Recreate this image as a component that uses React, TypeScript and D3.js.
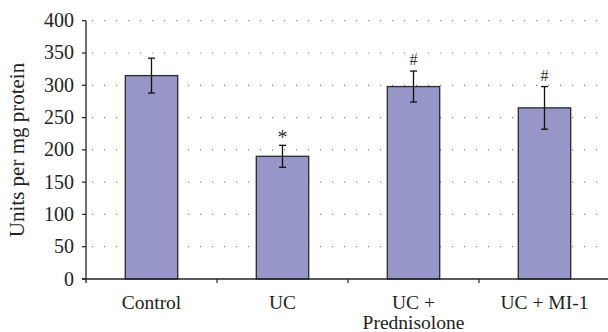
import React from "react";
import * as d3 from "d3";

const categories = ["Control", "UC", "UC + Prednisolone", "UC + MI-1"];
const labelLines = [["Control"], ["UC"], ["UC +", "Prednisolone"], ["UC + MI-1"]];
const values = [315, 190, 298, 265];
const errors = [27, 17, 24, 33];
const marks = ["", "*", "#", "#"];
const yTicks = [0, 50, 100, 150, 200, 250, 300, 350, 400];

export default function App() {
  const W = 608, H = 332;
  const left = 86, right = 610, top = 20.7, bottom = 279;
  const x = d3.scaleBand<string>().domain(categories).range([left, right]).paddingInner(0).paddingOuter(0);
  const y = d3.scaleLinear().domain([0, 400]).range([bottom, top]);
  const bw = x.bandwidth() * 0.4;
  const font = "'Liberation Serif', 'Times New Roman', serif";
  return (
    <svg width={W} height={H} style={{ position: "absolute", left: 0, top: 0, background: "#fff" }} fontFamily={font}>
      {yTicks.filter(t => t > 0).map(t => (
        <line key={"g" + t} x1={left + 6} x2={W} y1={y(t)} y2={y(t)} stroke="#888" strokeWidth={1.2} strokeDasharray="1.2 10.8" />
      ))}
      {categories.map((c, i) => {
        const cx = x(c)! + x.bandwidth() / 2;
        const v = values[i], e = errors[i];
        return (
          <g key={c}>
            <rect x={cx - bw / 2} y={y(v)} width={bw} height={y(0) - y(v)} fill="#9696C8" stroke="#2a2a2a" strokeWidth={1.3} />
            <line x1={cx} x2={cx} y1={y(v + e)} y2={y(v - e)} stroke="#111" strokeWidth={1.3} />
            <line x1={cx - 3.5} x2={cx + 3.5} y1={y(v + e)} y2={y(v + e)} stroke="#111" strokeWidth={1.3} />
            <line x1={cx - 3.5} x2={cx + 3.5} y1={y(v - e)} y2={y(v - e)} stroke="#111" strokeWidth={1.3} />
            {marks[i] && (
              <text x={cx} y={marks[i] === "*" ? y(v + e) - 1 : y(v + e) - 6} textAnchor="middle" fontSize={marks[i] === "*" ? 20 : 16} fill="#333">{marks[i]}</text>
            )}
            {labelLines[i].map((l, j) => (
              <text key={j} x={cx} y={308.5 + j * 20.5} textAnchor="middle" fontSize={19.5} fill="#222">{l}</text>
            ))}
          </g>
        );
      })}
      <line x1={left} x2={left} y1={top} y2={bottom + 4} stroke="#222" strokeWidth={1.3} />
      <line x1={left - 4} x2={W} y1={bottom} y2={bottom} stroke="#222" strokeWidth={1.3} />
      {yTicks.map(t => (
        <g key={"t" + t}>
          <line x1={left - 4} x2={left} y1={y(t)} y2={y(t)} stroke="#222" strokeWidth={1.2} />
          <text x={left - 12} y={y(t) + 6.5} textAnchor="end" fontSize={20} fill="#222">{t}</text>
        </g>
      ))}
      {categories.slice(1).map(c => (
        <line key={"xt" + c} x1={x(c)!} x2={x(c)!} y1={bottom} y2={bottom + 4} stroke="#222" strokeWidth={1.2} />
      ))}
      <text transform={`translate(24,150) rotate(-90)`} textAnchor="middle" fontSize={21} fill="#222">Units per mg protein</text>
    </svg>
  );
}
